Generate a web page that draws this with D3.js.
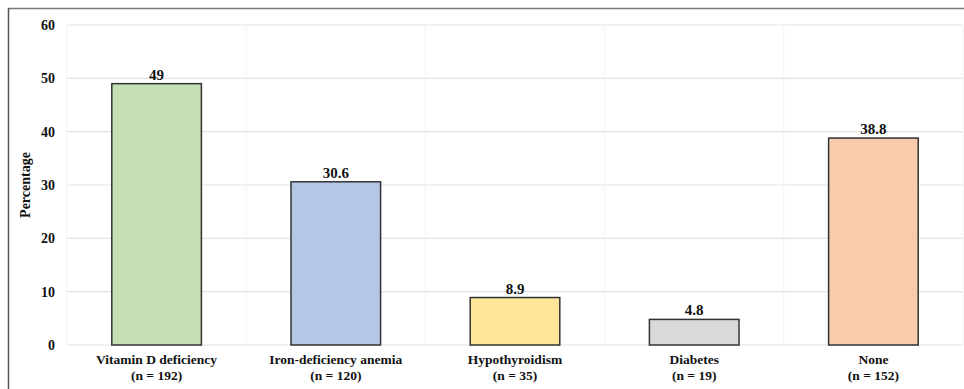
<!DOCTYPE html>
<html><head><meta charset="utf-8">
<script src="https://cdn.jsdelivr.net/npm/d3@7"></script>
<style>body{margin:0;background:#fff}svg{display:block}text{font-family:"Liberation Serif","Times New Roman",serif;font-weight:bold;fill:#111}</style>
</head><body><svg id="c" width="964" height="389"></svg>
<script>
const categories = ["Vitamin D deficiency", "Iron-deficiency anemia", "Hypothyroidism", "Diabetes", "None"];
const counts = ["(n = 192)", "(n = 120)", "(n = 35)", "(n = 19)", "(n = 152)"];
const values = [49, 30.6, 8.9, 4.8, 38.8];
const valueLabels = ["49", "30.6", "8.9", "4.8", "38.8"];
const colors = ["#c5e0b4", "#b4c7e7", "#fde699", "#d9d9d9", "#f8cbad"];
const yTicks = [0, 10, 20, 30, 40, 50, 60];

const svg = d3.select("#c");
const m = {l: 67, r: 1, t: 25, b: 44};
const W = 964, H = 389;
const x = d3.scaleBand().domain(categories).range([m.l, W - m.r]).paddingInner(0.5).paddingOuter(0.25);
const xb = d3.scaleBand().domain(categories).range([m.l, W - m.r]);
const y = d3.scaleLinear().domain([0, 60]).range([H - m.b, m.t]);

// frame
svg.append("line").attr("x1", 8).attr("x2", W).attr("y1", 8.5).attr("y2", 8.5).attr("stroke", "#777").attr("stroke-width", 1.5);
svg.append("line").attr("x1", 8.5).attr("x2", 8.5).attr("y1", 8).attr("y2", H).attr("stroke", "#555").attr("stroke-width", 1.5);

// gridlines
svg.append("g").selectAll("line").data(yTicks).join("line")
  .attr("x1", m.l).attr("x2", W - m.r).attr("y1", d => y(d)).attr("y2", d => y(d))
  .attr("stroke", "#e3e3e3").attr("stroke-width", 1.2);
const vb = categories.map(c => xb(c)).concat([xb(categories[categories.length - 1]) + xb.bandwidth()]);
svg.append("g").selectAll("line").data(vb).join("line")
  .attr("x1", d => d).attr("x2", d => d).attr("y1", y(60)).attr("y2", y(0))
  .attr("stroke", "#f2f2f2");

// y axis labels
const yAxis = d3.axisLeft(y).tickValues(yTicks).tickSize(0).tickPadding(12);
const ga = svg.append("g").attr("transform", `translate(${m.l},0)`).call(yAxis);
ga.select(".domain").remove();
ga.selectAll("text").attr("font-size", 14).attr("font-family", "Liberation Serif").attr("font-weight", "bold").attr("fill", "#111");

svg.append("text").attr("transform", `translate(30,${y(30)}) rotate(-90)`).attr("text-anchor", "middle")
  .attr("font-size", 14).text("Percentage");

// bars
svg.append("g").selectAll("rect").data(values).join("rect")
  .attr("x", (d, i) => x(categories[i])).attr("width", x.bandwidth())
  .attr("y", d => y(d)).attr("height", d => y(0) - y(d))
  .attr("fill", (d, i) => colors[i]).attr("stroke", "#333").attr("stroke-width", 1.5);

svg.append("g").selectAll("text").data(values).join("text")
  .attr("x", (d, i) => x(categories[i]) + x.bandwidth() / 2).attr("y", d => y(d) - 4)
  .attr("text-anchor", "middle").attr("font-size", 15).text((d, i) => valueLabels[i]);

// category labels
const gx = svg.append("g");
categories.forEach((c, i) => {
  const cx = x(c) + x.bandwidth() / 2;
  gx.append("text").attr("x", cx).attr("y", y(0) + 19).attr("text-anchor", "middle").attr("font-size", 13.5).text(c);
  gx.append("text").attr("x", cx).attr("y", y(0) + 35).attr("text-anchor", "middle").attr("font-size", 13.5).text(counts[i]);
});
</script></body></html>
